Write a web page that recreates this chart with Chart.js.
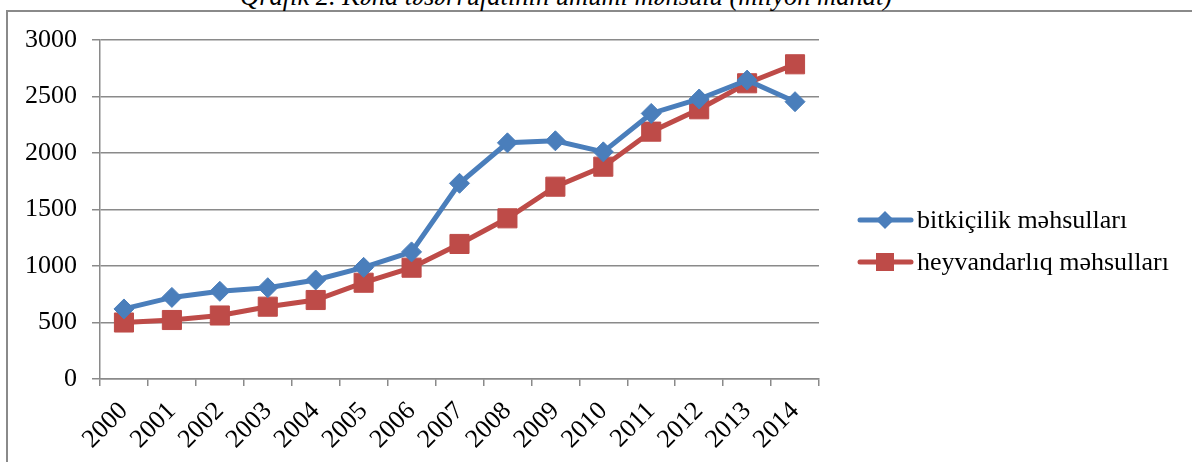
<!DOCTYPE html>
<html>
<head>
<meta charset="utf-8">
<script src="https://cdn.jsdelivr.net/npm/chart.js@4/dist/chart.umd.min.js"></script>
<style>
  html, body { margin: 0; padding: 0; background: #fff; }
  body { width: 1192px; height: 462px; position: relative; overflow: hidden; }
  #frame { position: absolute; left: 6px; top: 10px; width: 1300px; height: 600px;
           border-left: 2px solid #8a8a8a; border-top: 2px solid #8a8a8a; }
  #title { position: absolute; left: 240px; top: -17px; font-family: "Liberation Serif", serif;
           font-style: italic; font-size: 26.5px; line-height: 26px; white-space: nowrap; color: #000; }
  #wrap { position: absolute; left: 0; top: 0; width: 1192px; height: 462px; }
</style>
</head>
<body>
<div id="frame"></div>
<div id="title">Qrafik 2. Kənd təsərrüfatının ümumi məhsulu (milyon manat)</div>
<div id="wrap"><canvas id="c" width="1192" height="462"></canvas></div>
<script>
const years = ["2000","2001","2002","2003","2004","2005","2006","2007","2008","2009","2010","2011","2012","2013","2014"];
const bitkicilik = [620, 722, 776, 808, 876, 988, 1125, 1732, 2090, 2108, 2010, 2350, 2478, 2645, 2454];
const heyvandarliq = [500, 522, 562, 640, 699, 852, 985, 1195, 1422, 1702, 1879, 2189, 2387, 2617, 2785];
const seriesNames = ["bitkiçilik məhsulları", "heyvandarlıq məhsulları"];
const yTicks = [0, 500, 1000, 1500, 2000, 2500, 3000];

const BLUE = "#4A7EBB";
const RED = "#BE4B48";
const FONT = '"Liberation Serif", "Times New Roman", serif';

const legendPlugin = {
  id: "customLegend",
  afterDraw(chart) {
    const ctx = chart.ctx;
    const rows = [220, 262];
    chart.data.datasets.forEach((ds, i) => {
      const y = rows[i];
      ctx.save();
      ctx.strokeStyle = ds.borderColor;
      ctx.lineWidth = 5;
      ctx.lineCap = "round";
      ctx.beginPath();
      ctx.moveTo(860, y);
      ctx.lineTo(911, y);
      ctx.stroke();
      ctx.fillStyle = ds.pointBackgroundColor;
      ctx.beginPath();
      if (ds.pointStyle === "rectRot") {
        const r = 9;
        ctx.moveTo(885, y - r); ctx.lineTo(885 + r, y); ctx.lineTo(885, y + r); ctx.lineTo(885 - r, y);
        ctx.closePath();
      } else {
        ctx.rect(885 - 9, y - 9, 18, 18);
      }
      ctx.fill();
      ctx.fillStyle = "#000";
      ctx.font = "26px " + FONT;
      ctx.textBaseline = "middle";
      ctx.textAlign = "left";
      ctx.fillText(ds.label, 917, y + 1);
      ctx.restore();
    });
  }
};

new Chart(document.getElementById("c"), {
  type: "line",
  data: {
    labels: years,
    datasets: [
      {
        label: seriesNames[0],
        data: bitkicilik,
        borderColor: BLUE,
        backgroundColor: BLUE,
        pointBackgroundColor: BLUE,
        pointBorderColor: BLUE,
        borderWidth: 5,
        pointStyle: "rectRot",
        pointRadius: 10,
        pointBorderWidth: 1,
        tension: 0
      },
      {
        label: seriesNames[1],
        data: heyvandarliq,
        borderColor: RED,
        backgroundColor: RED,
        pointBackgroundColor: RED,
        pointBorderColor: RED,
        borderWidth: 5,
        pointStyle: "rect",
        pointRadius: 13.5,
        pointBorderWidth: 1,
        tension: 0
      }
    ]
  },
  options: {
    responsive: false,
    animation: false,
    devicePixelRatio: 1,
    layout: { padding: { left: 0, right: 373, top: 40, bottom: 0 } },
    plugins: {
      legend: { display: false },
      tooltip: { enabled: false },
      title: { display: false }
    },
    scales: {
      x: {
        type: "category",
        offset: true,
        grid: {
          offset: true,
          drawOnChartArea: false,
          drawTicks: true,
          tickLength: 7,
          color: "#8a8a8a",
          lineWidth: 1.5
        },
        border: { display: true, color: "#8a8a8a", width: 1.5 },
        ticks: {
          color: "#000",
          font: { family: FONT, size: 26 },
          minRotation: 45,
          maxRotation: 45,
          autoSkip: false,
          padding: 10
        },
        afterFit(scale) { scale.height = 83; }
      },
      y: {
        min: 0,
        max: 3000,
        afterBuildTicks(scale) { scale.ticks = yTicks.map(v => ({ value: v })); },
        grid: {
          drawOnChartArea: true,
          drawTicks: true,
          tickLength: 8,
          color: "#8a8a8a",
          lineWidth: 1.5
        },
        border: { display: true, color: "#8a8a8a", width: 1.5 },
        ticks: {
          color: "#000",
          font: { family: FONT, size: 26 },
          padding: 15,
          callback: (v) => String(v)
        },
        afterFit(scale) { scale.width = 100; }
      }
    }
  },
  plugins: [legendPlugin]
});
</script>
</body>
</html>
